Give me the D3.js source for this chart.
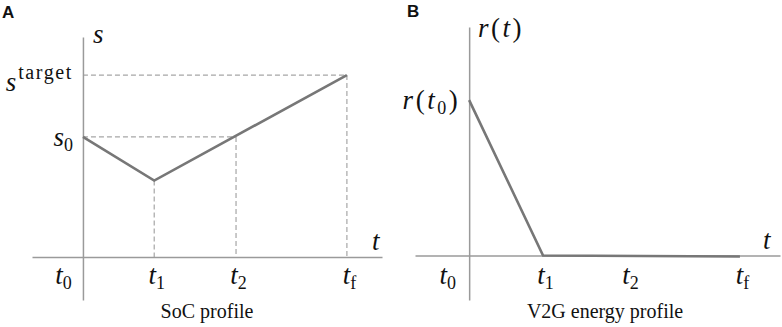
<!DOCTYPE html>
<html>
<head>
<meta charset="utf-8">
<script src="https://cdn.jsdelivr.net/npm/d3@7"></script>
<style>
  body { margin: 0; background: #fff; }
</style>
</head>
<body>
<script>
//Width and height
var w = 782;
var h = 327;

var serif = "'Liberation Serif', 'Times New Roman', serif";
var sans = "'Liberation Sans', Arial, sans-serif";

//Time ticks (shared names), positions in normalised time
var tickSubs = ["0", "1", "2", "f"];
var socTicks = [0, 0.27, 0.58, 1];
var v2gTicks = [0, 0.273, 0.587, 1];

//SoC profile: vertices of the line
var socTime = [0, 0.27, 1];
var socLevel = [0.66, 0.42, 1];
var s0 = 0.66;
var sTarget = 1;

//V2G energy profile: vertices of the line
var v2gTime = [0, 0.273, 1];
var v2gRate = [1, 0, -0.006];
var r0 = 1;

var lineColor = "#777";
var axisColor = "#9a9a9a";
var guideColor = "#a6a6a6";

var svg = d3.select("body").append("svg").attr("width", w).attr("height", h);

//Writes a LaTeX-like label made of pieces into a text element
function mathLabel(text, parts, spacing) {
  text.text("")
    .style("font-family", serif)
    .attr("font-size", 27)
    .attr("fill", "#111");
  if (spacing) text.attr("letter-spacing", spacing);
  parts.forEach(function (p) {
    var ts = text.append("tspan").text(p.t);
    if (p.i) ts.attr("font-style", "italic");
    if (p.sub) ts.attr("font-size", 18).attr("dy", 5);
    if (p.sup) ts.attr("font-size", 20).attr("dy", -12).attr("dx", 2).attr("letter-spacing", 1.6);
    if (p.back) ts.attr("dy", p.back);
  });
}

function tLabel(sub) {
  return [{ t: "t", i: true }, { t: sub, sub: true }];
}

//Dashed guide helper
function guide(g, x1, y1, x2, y2) {
  g.append("line")
    .attr("x1", x1).attr("y1", y1).attr("x2", x2).attr("y2", y2)
    .attr("stroke", guideColor)
    .attr("stroke-width", 1.2)
    .attr("stroke-dasharray", "5,3");
}

function caption(g, x, label) {
  g.append("text")
    .style("font-family", serif)
    .attr("font-size", 20)
    .attr("fill", "#111")
    .attr("text-anchor", "middle")
    .attr("x", x).attr("y", 318).text(label);
}

function panelLetter(g, x, y, label) {
  g.append("text")
    .style("font-family", sans)
    .attr("font-weight", "bold")
    .attr("font-size", 17)
    .attr("fill", "#111")
    .attr("x", x).attr("y", y).text(label);
}

// ---------- Panel A ----------
var xA = d3.scaleLinear().domain([-0.193, 1.133]).range([32, 382]);
var yA = d3.scaleLinear().domain([-0.236, 1.209]).range([300, 37]);

var gA = svg.append("g");

//Guides
var sMinA = socLevel[1];
guide(gA, xA(0), yA(sTarget), xA(socTicks[3]), yA(sTarget));
guide(gA, xA(socTicks[3]), yA(sTarget), xA(socTicks[3]), yA(0));
guide(gA, xA(0), yA(s0), xA(socTicks[2]), yA(s0));
guide(gA, xA(socTicks[2]), yA(s0), xA(socTicks[2]), yA(0));
guide(gA, xA(socTicks[1]), yA(sMinA), xA(socTicks[1]), yA(0));

//Axes
var xAxisA = d3.axisBottom(xA).tickValues(socTicks).tickSize(0).tickSizeOuter(0).tickFormat("");
var yAxisA = d3.axisLeft(yA).tickValues([s0, sTarget]).tickSize(0).tickSizeOuter(0).tickFormat("");

var axA = gA.append("g")
  .attr("transform", "translate(0," + yA(0) + ")")
  .call(xAxisA);
axA.selectAll("text")
  .attr("y", 27)
  .attr("dy", 0)
  .attr("dx", function (d, i) { return i === 0 ? -20 : 2; })
  .each(function (d, i) { mathLabel(d3.select(this), tLabel(tickSubs[i])); });

var ayA = gA.append("g")
  .attr("transform", "translate(" + xA(0) + ",0)")
  .call(yAxisA);
ayA.selectAll("text")
  .attr("x", -10)
  .attr("dy", function (d) { return d === sTarget ? 15 : 9; })
  .each(function (d) {
    if (d === sTarget) mathLabel(d3.select(this), [{ t: "s", i: true }, { t: "target", sup: true }]);
    else mathLabel(d3.select(this), [{ t: "s", i: true }, { t: "0", sub: true }]);
  });

[axA, ayA].forEach(function (a) {
  a.select(".domain").attr("stroke", axisColor).attr("stroke-width", 1.5);
});

//Line
var lineA = d3.line()
  .x(function (d, i) { return xA(socTime[i]); })
  .y(function (d) { return yA(d); });

gA.append("path")
  .datum(socLevel)
  .attr("d", lineA)
  .attr("fill", "none")
  .attr("stroke", lineColor)
  .attr("stroke-width", 2.6);

//Axis names
mathLabel(gA.append("text").attr("x", 93).attr("y", 43), [{ t: "s", i: true }]);
mathLabel(gA.append("text").attr("x", 372).attr("y", 250), [{ t: "t", i: true }]);

caption(gA, 207, "SoC profile");
panelLetter(gA, 2, 18, "A");

// ---------- Panel B ----------
var xB = d3.scaleLinear().domain([-0.2, 1.148]).range([415, 780]);
var yB = d3.scaleLinear().domain([-0.286, 1.47]).range([300, 27]);

var gB = svg.append("g");

var xAxisB = d3.axisBottom(xB).tickValues(v2gTicks).tickSize(0).tickSizeOuter(0).tickFormat("");
var yAxisB = d3.axisLeft(yB).tickValues([r0]).tickSize(0).tickSizeOuter(0).tickFormat("");

var axB = gB.append("g")
  .attr("transform", "translate(0," + yB(0) + ")")
  .call(xAxisB);
axB.selectAll("text")
  .attr("y", 28)
  .attr("dy", 0)
  .attr("dx", function (d, i) { return i === 0 ? -22 : 2; })
  .each(function (d, i) { mathLabel(d3.select(this), tLabel(tickSubs[i])); });

var ayB = gB.append("g")
  .attr("transform", "translate(" + xB(0) + ",0)")
  .call(yAxisB);
ayB.selectAll("text")
  .attr("x", -9)
  .attr("dy", 8)
  .each(function () {
    mathLabel(d3.select(this), [
      { t: "r", i: true }, { t: "(" }, { t: "t", i: true }, { t: "0", sub: true }, { t: ")", back: -5 }
    ], 2.5);
  });

[axB, ayB].forEach(function (a) {
  a.select(".domain").attr("stroke", axisColor).attr("stroke-width", 1.5);
});

var lineB = d3.line()
  .x(function (d, i) { return xB(v2gTime[i]); })
  .y(function (d) { return yB(d); });

gB.append("path")
  .datum(v2gRate)
  .attr("d", lineB)
  .attr("fill", "none")
  .attr("stroke", lineColor)
  .attr("stroke-width", 2.6);

mathLabel(gB.append("text").attr("x", 478).attr("y", 37),
  [{ t: "r", i: true }, { t: "(" }, { t: "t", i: true }, { t: ")" }], 2.5);
mathLabel(gB.append("text").attr("x", 763).attr("y", 249), [{ t: "t", i: true }]);

caption(gB, 605, "V2G energy profile");
panelLetter(gB, 407, 17, "B");
</script>
</body>
</html>
